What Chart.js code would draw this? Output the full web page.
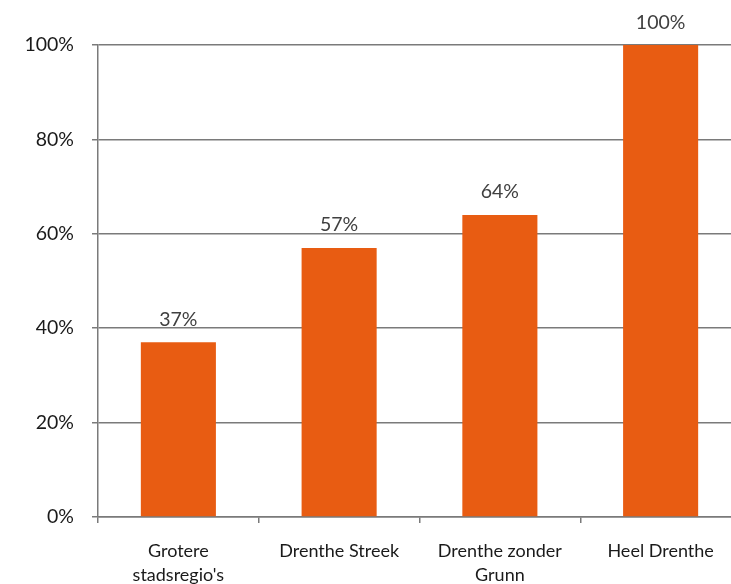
<!DOCTYPE html>
<html>
<head>
<meta charset="utf-8">
<script src="https://cdn.jsdelivr.net/npm/chart.js@4"></script>
<style>
    html, body { margin: 0; padding: 0; background: #fff; overflow: hidden; }
    #wrap { width: 745px; height: 584px; }
</style>
</head>
<body>
<div id="wrap"><canvas id="share-chart"></canvas></div>
<script>
// --- Data ---
const categories = [['Grotere', "stadsregio's"], 'Drenthe Streek', ['Drenthe zonder', 'Grunn'], 'Heel Drenthe'];
const shares = [37, 57, 64, 100];
const yTicks = [0, 20, 40, 60, 80, 100];

// --- Colours ---
const COLORS = {
    bar: '#e85c12',
    axis: '#7a7a7a',
    text: '#1a1a1a',
    value: '#404040',
};
const FONT = "Lato, 'Open Sans', sans-serif";

// Value labels above each bar
const barValueLabels = {
    id: 'barValueLabels',
    afterDatasetsDraw(chart) {
        const { ctx } = chart;
        const meta = chart.getDatasetMeta(0);
        ctx.save();
        ctx.font = `19.5px ${FONT}`;
        ctx.fillStyle = COLORS.value;
        ctx.textAlign = 'center';
        ctx.textBaseline = 'bottom';
        meta.data.forEach((bar, i) => {
            ctx.fillText(shares[i] + '%', bar.x, bar.y - 13);
        });
        ctx.restore();
    }
};

new Chart(document.getElementById('share-chart'), {
    type: 'bar',
    data: {
        labels: categories,
        datasets: [{
            data: shares,
            backgroundColor: COLORS.bar,
            barPercentage: 0.467,
            categoryPercentage: 1,
        }]
    },
    options: {
        responsive: true,
        maintainAspectRatio: false,
        animation: false,
        layout: { padding: { top: 45, right: 4, left: 0, bottom: 0 } },
        plugins: {
            legend: { display: false },
            tooltip: { enabled: false },
        },
        scales: {
            x: {
                offset: true,
                grid: {
                    offset: true,
                    drawOnChartArea: false,
                    drawTicks: true,
                    tickLength: 6,
                    color: COLORS.axis,
                    lineWidth: 1.5,
                },
                border: { color: COLORS.axis, width: 1.5 },
                ticks: {
                    color: COLORS.text,
                    font: { family: FONT, size: 18, lineHeight: 1.35 },
                    maxRotation: 0,
                    autoSkip: false,
                    padding: 16,
                },
                afterFit: s => { s.height = 67; },
            },
            y: {
                min: 0,
                max: 100,
                afterBuildTicks: s => { s.ticks = yTicks.map(v => ({ value: v })); },
                grid: {
                    color: COLORS.axis,
                    lineWidth: 1.5,
                    drawTicks: true,
                    tickLength: 6,
                },
                border: { color: COLORS.axis, width: 1.5 },
                ticks: {
                    color: COLORS.text,
                    font: { family: FONT, size: 19.5 },
                    padding: 18,
                    callback: v => v + '%',
                },
                afterFit: s => { s.width = 98; },
            }
        }
    },
    plugins: [barValueLabels]
});
</script>
</body>
</html>
